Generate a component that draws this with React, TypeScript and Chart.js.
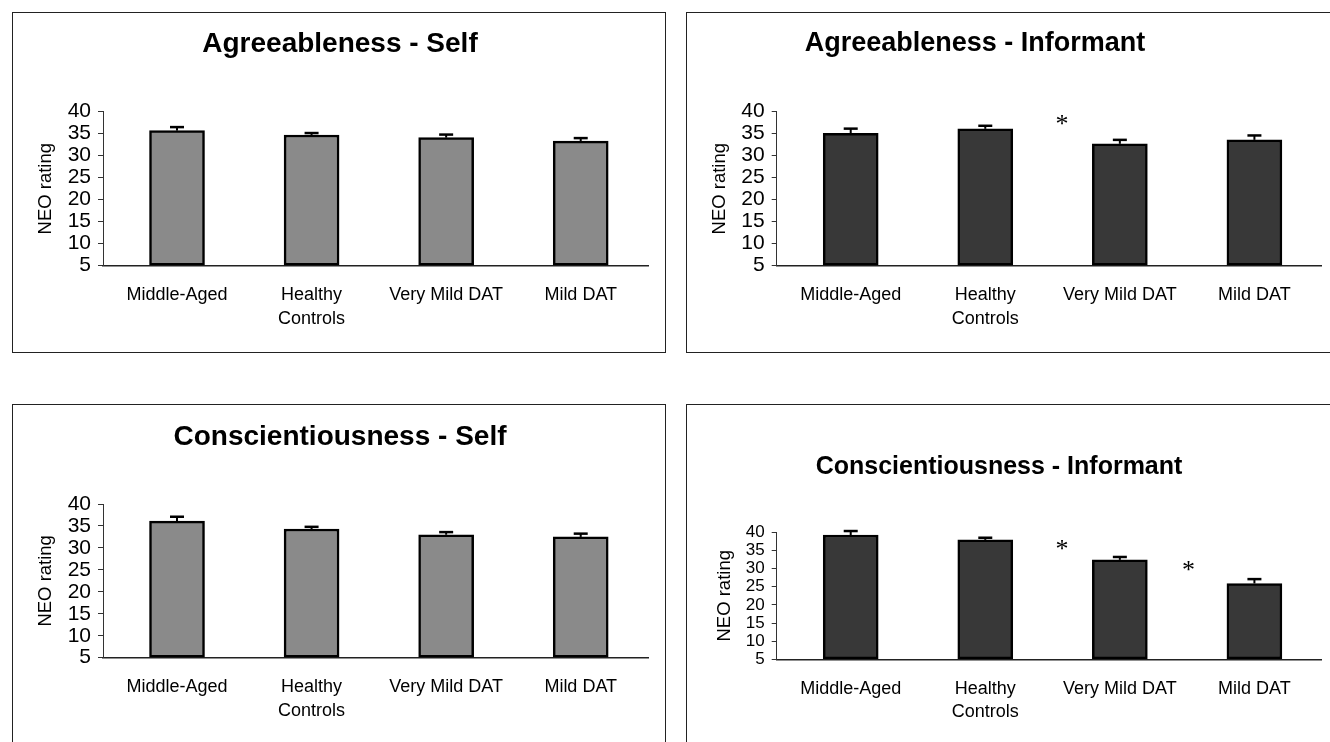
import React, { useEffect, useRef } from "react";
import { Chart, registerables } from "chart.js";

Chart.register(...registerables);

// ---------- data ----------
const categories: string[][] = [["Middle-Aged"], ["Healthy", "Controls"], ["Very Mild DAT"], ["Mild DAT"]];
const yMin = 5;
const yMax = 40;
const yStep = 5;

const agreeSelf = [35.7, 34.7, 34.1, 33.3];
const agreeSelfErr = [0.8, 0.45, 0.7, 0.7];

const agreeInformant = [35.1, 36.1, 32.7, 33.6];
const agreeInformantErr = [1.05, 0.7, 0.9, 1.0];
const agreeInformantSig = [{ x: 1.57, y: 38.1 }];

const conscSelf = [36.1, 34.3, 33.0, 32.5];
const conscSelfErr = [1.0, 0.5, 0.6, 0.75];

const conscInformant = [39.25, 37.9, 32.4, 25.9];
const conscInformantErr = [1.1, 0.6, 0.8, 1.2];
const conscInformantSig = [
  { x: 1.57, y: 36.5 },
  { x: 2.51, y: 30.7 },
];

const FONT = '"Liberation Sans", Arial, Helvetica, sans-serif';

type PanelCfg = {
  title: string;
  values: number[];
  errors: number[];
  sig: { x: number; y: number }[];
  color: string;
  left: number;
  top: number;
  w: number;
  h: number;
  area: { l: number; r: number; t: number; b: number };
  titleX: number;
  titleY: number;
  titleSize: number;
  tickSize: number;
  yTitleX: number;
};

const panels: PanelCfg[] = [
  {
    title: "Agreeableness - Self",
    values: agreeSelf,
    errors: agreeSelfErr,
    sig: [],
    color: "#8a8a8a",
    left: 12,
    top: 12,
    w: 654,
    h: 341,
    area: { l: 91, r: 636, t: 99.7, b: 253.7 },
    titleX: 328,
    titleY: 32,
    titleSize: 28,
    tickSize: 21,
    yTitleX: 34,
  },
  {
    title: "Agreeableness - Informant",
    values: agreeInformant,
    errors: agreeInformantErr,
    sig: agreeInformantSig,
    color: "#383838",
    left: 686,
    top: 12,
    w: 654,
    h: 341,
    area: { l: 90.7, r: 635.7, t: 99.7, b: 253.7 },
    titleX: 289,
    titleY: 32,
    titleSize: 27,
    tickSize: 21,
    yTitleX: 34,
  },
  {
    title: "Conscientiousness - Self",
    values: conscSelf,
    errors: conscSelfErr,
    sig: [],
    color: "#8a8a8a",
    left: 12,
    top: 404,
    w: 654,
    h: 338,
    area: { l: 91, r: 636, t: 100, b: 253.7 },
    titleX: 328,
    titleY: 33,
    titleSize: 28,
    tickSize: 21,
    yTitleX: 34,
  },
  {
    title: "Conscientiousness - Informant",
    values: conscInformant,
    errors: conscInformantErr,
    sig: conscInformantSig,
    color: "#383838",
    left: 686,
    top: 404,
    w: 654,
    h: 338,
    area: { l: 90.7, r: 635.7, t: 128.3, b: 255.3 },
    titleX: 313,
    titleY: 63,
    titleSize: 25,
    tickSize: 17,
    yTitleX: 39,
  },
];

const titlePlugin = {
  id: "panelTitle",
  afterDraw(chart: any, _args: any, opts: any) {
    const ctx = chart.ctx;
    ctx.save();
    ctx.fillStyle = "#000";
    ctx.font = `bold ${opts.size}px ${FONT}`;
    ctx.textAlign = "center";
    ctx.textBaseline = "middle";
    ctx.fillText(opts.text, opts.x, opts.y);
    ctx.restore();
  },
};

const errorBarPlugin = {
  id: "errorBars",
  afterDatasetsDraw(chart: any, _args: any, opts: any) {
    const ctx = chart.ctx;
    const yScale = chart.scales.y;
    const meta = chart.getDatasetMeta(0);
    const vals: number[] = opts.values;
    const errs: number[] = opts.errors;
    ctx.save();
    ctx.strokeStyle = "#000";
    ctx.lineCap = "butt";
    meta.data.forEach((el: any, i: number) => {
      const yTop = yScale.getPixelForValue(vals[i] + errs[i]);
      ctx.lineWidth = 2;
      ctx.beginPath();
      ctx.moveTo(el.x, el.y);
      ctx.lineTo(el.x, yTop);
      ctx.stroke();
      ctx.lineWidth = 2.5;
      ctx.beginPath();
      ctx.moveTo(el.x - 7, yTop);
      ctx.lineTo(el.x + 7, yTop);
      ctx.stroke();
    });
    ctx.restore();
  },
};

const sigPlugin = {
  id: "sigMarks",
  afterDatasetsDraw(chart: any, _args: any, opts: any) {
    const marks: { x: number; y: number }[] = opts.marks || [];
    if (!marks.length) return;
    const ctx = chart.ctx;
    const size = 26;
    ctx.save();
    ctx.fillStyle = "#000";
    ctx.font = `${size}px "Liberation Serif", "Times New Roman", serif`;
    ctx.textAlign = "center";
    ctx.textBaseline = "alphabetic";
    marks.forEach((m) => {
      const px = chart.scales.x.getPixelForValue(m.x);
      const py = chart.scales.y.getPixelForValue(m.y);
      ctx.fillText("*", px, py + size * 0.45);
    });
    ctx.restore();
  },
};

function Panel({ cfg }: { cfg: PanelCfg }) {
  const ref = useRef<HTMLCanvasElement | null>(null);
  useEffect(() => {
    if (!ref.current) return;
    const a = cfg.area;
    const chart = new Chart(ref.current, {
      type: "bar",
      data: {
        datasets: [
          {
            data: cfg.values.map((v, i) => ({ x: i, y: v })),
            backgroundColor: cfg.color,
            borderColor: "#000",
            borderWidth: 2.5,
            borderSkipped: false,
            barThickness: 55,
            base: yMin,
          } as any,
        ],
      },
      plugins: [titlePlugin, errorBarPlugin, sigPlugin],
      options: {
        animation: false,
        responsive: false,
        maintainAspectRatio: false,
        events: [],
        layout: {
          padding: { top: a.t, left: 0, right: cfg.w - a.r, bottom: 0 },
        },
        plugins: {
          legend: { display: false },
          tooltip: { enabled: false },
          title: { display: false },
          panelTitle: { text: cfg.title, x: cfg.titleX, y: cfg.titleY, size: cfg.titleSize },
          errorBars: { values: cfg.values, errors: cfg.errors },
          sigMarks: { marks: cfg.sig },
        } as any,
        scales: {
          x: {
            type: "linear",
            min: -0.55,
            max: 3.5,
            offset: false,
            grid: { display: false, drawTicks: false },
            border: { display: true, color: "#222", width: 1.5 },
            afterBuildTicks: (scale: any) => {
              scale.ticks = categories.map((_, i) => ({ value: i }));
            },
            afterFit: (scale: any) => {
              scale.height = cfg.h - a.b;
            },
            ticks: {
              autoSkip: false,
              maxRotation: 0,
              minRotation: 0,
              padding: 18,
              color: "#000",
              font: { family: FONT, size: 18, lineHeight: 1.3 },
              callback: (v: any) => categories[Math.round(Number(v))] ?? "",
            },
          },
          y: {
            type: "linear",
            min: yMin,
            max: yMax,
            grid: { display: true, drawOnChartArea: false, drawTicks: true, tickLength: 5, color: "#333" },
            border: { display: true, color: "#333", width: 1 },
            afterFit: (scale: any) => {
              scale.width = a.l;
            },
            ticks: {
              stepSize: yStep,
              autoSkip: false,
              padding: 7,
              color: "#000",
              font: { family: FONT, size: cfg.tickSize, lineHeight: 1 },
            },
            title: {
              display: true,
              text: "NEO rating",
              color: "#000",
              font: { family: FONT, size: 18.5, lineHeight: 1.2 },
              padding: { top: cfg.yTitleX - 11.1, bottom: 0 },
            },
          },
        },
      } as any,
    });
    return () => chart.destroy();
  }, [cfg]);
  return (
    <canvas
      ref={ref}
      width={cfg.w}
      height={cfg.h}
      style={{ position: "absolute", left: cfg.left, top: cfg.top, width: cfg.w, height: cfg.h }}
    />
  );
}

export default function App() {
  return (
    <div
      style={{
        position: "absolute",
        left: 0,
        top: 0,
        width: 1330,
        height: 742,
        overflow: "hidden",
        background: "#fff",
      }}
    >
      {panels.map((p, i) => (
        <React.Fragment key={i}>
          <Panel cfg={p} />
          <div
            style={{
              position: "absolute",
              left: p.left,
              top: p.top,
              width: p.w,
              height: p.top > 100 ? 420 : p.h,
              boxSizing: "border-box",
              border: "1.5px solid #222",
              pointerEvents: "none",
            }}
          />
        </React.Fragment>
      ))}
    </div>
  );
}
